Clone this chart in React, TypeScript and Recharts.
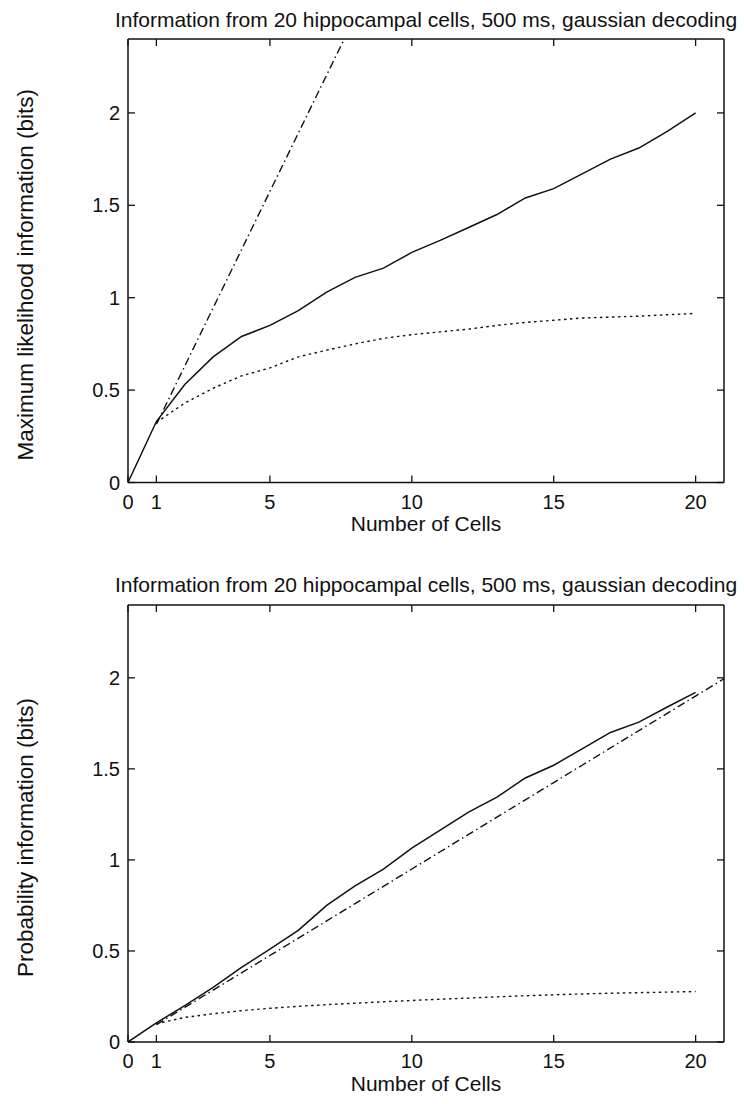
import { LineChart, Line, XAxis, YAxis } from 'recharts';

// number of cells decoded together
const cells = [0, 1, 2, 3, 4, 5, 6, 7, 8, 9, 10, 11, 12, 13, 14, 15, 16, 17, 18, 19, 20, 21];
const xTicks = [0, 1, 5, 10, 15, 20];
const yTicks = [0, 0.5, 1, 1.5, 2];

const titleText = 'Information from 20 hippocampal cells, 500 ms, gaussian decoding';

// top panel: maximum likelihood information (bits)
const mlSolid = [0, 0.33, 0.53, 0.68, 0.79, 0.85, 0.93, 1.03, 1.11, 1.16, 1.245, 1.31, 1.38, 1.45, 1.54, 1.59, 1.67, 1.75, 1.81, 1.9, 2.0];
const mlDotted = [null, 0.325, 0.43, 0.51, 0.577, 0.62, 0.68, 0.716, 0.75, 0.78, 0.8, 0.815, 0.83, 0.85, 0.866, 0.878, 0.89, 0.895, 0.9, 0.908, 0.915];
const mlDashDot = [null, 0.315, 0.63, 0.945, 1.26, 1.575, 1.89, 2.205, 2.52];

// bottom panel: probability information (bits)
const probSolid = [0, 0.105, 0.2, 0.3, 0.41, 0.51, 0.613, 0.75, 0.857, 0.95, 1.065, 1.163, 1.262, 1.345, 1.45, 1.52, 1.61, 1.7, 1.757, 1.84, 1.92];
const probDotted = [null, 0.1, 0.135, 0.155, 0.172, 0.185, 0.196, 0.205, 0.213, 0.221, 0.228, 0.235, 0.241, 0.248, 0.254, 0.259, 0.264, 0.268, 0.271, 0.274, 0.277];
const probDashDot = [null, 0.095, 0.19, 0.285, 0.38, 0.475, 0.57, 0.665, 0.76, 0.855, 0.95, 1.045, 1.14, 1.235, 1.33, 1.425, 1.52, 1.615, 1.71, 1.805, 1.9, 1.995];

const FONT = '"Liberation Sans", Arial, Helvetica, sans-serif';
const INK = '#111';

const buildRows = (solid: (number | null)[], dotted: (number | null)[], dashDot: (number | null)[]) =>
  cells.map((n, i) => ({
    n,
    solid: solid[i] ?? null,
    dotted: dotted[i] ?? null,
    dashDot: dashDot[i] ?? null,
  }));

const tickStyle = { fill: INK, fontSize: 20, fontFamily: FONT };
const axisLine = { stroke: INK, strokeWidth: 1.5 };
const tickLine = { stroke: INK, strokeWidth: 1.3 };
const blank = () => '';

interface PanelProps {
  rows: ReturnType<typeof buildRows>;
  yLabel: string;
  marginTop: number;
  bottomHeight: number;
  titleDy: number;
  xLabelDy: number;
  yLabelDy: number;
}

const Panel = ({ rows, yLabel, marginTop, bottomHeight, titleDy, xLabelDy, yLabelDy }: PanelProps) => {
  return (
    <LineChart width={744} height={552} data={rows} margin={{ top: marginTop, right: 19, bottom: 0, left: 0 }}>
      <XAxis
        dataKey="n"
        type="number"
        domain={[0, 21]}
        ticks={xTicks}
        allowDataOverflow
        height={bottomHeight}
        tickSize={-7}
        tickMargin={19}
        axisLine={axisLine}
        tickLine={tickLine}
        tick={tickStyle}
        label={{ value: 'Number of Cells', position: 'center', dy: xLabelDy, fill: INK, fontSize: 21, fontFamily: FONT }}
      />
      <XAxis
        xAxisId="top"
        orientation="top"
        dataKey="n"
        type="number"
        domain={[0, 21]}
        ticks={xTicks}
        allowDataOverflow
        height={1}
        tickSize={-7}
        tickFormatter={blank}
        axisLine={axisLine}
        tickLine={tickLine}
        label={{ value: titleText, position: 'center', dy: titleDy, fill: INK, fontSize: 21, fontFamily: FONT }}
      />
      <YAxis
        type="number"
        domain={[0, 2.4]}
        ticks={yTicks}
        allowDataOverflow
        width={128}
        tickSize={-7}
        tickMargin={15}
        axisLine={axisLine}
        tickLine={tickLine}
        tick={tickStyle}
        label={{ value: yLabel, angle: -90, position: 'center', dx: -39, dy: yLabelDy, fill: INK, fontSize: 22.5, fontFamily: FONT }}
      />
      <YAxis
        yAxisId="right"
        orientation="right"
        type="number"
        domain={[0, 2.4]}
        ticks={yTicks}
        allowDataOverflow
        width={1}
        tickSize={-7}
        tickFormatter={blank}
        axisLine={axisLine}
        tickLine={tickLine}
      />
      <Line type="linear" dataKey="dashDot" stroke={INK} strokeWidth={1.4} strokeDasharray="8 3.5 1.5 3.5" dot={false} activeDot={false} isAnimationActive={false} />
      <Line type="linear" dataKey="dotted" stroke={INK} strokeWidth={1.4} strokeDasharray="2.5 3.5" dot={false} activeDot={false} isAnimationActive={false} />
      <Line type="linear" dataKey="solid" stroke={INK} strokeWidth={1.5} dot={false} activeDot={false} isAnimationActive={false} />
    </LineChart>
  );
};

const App = () => {
  return (
    <div style={{ position: 'absolute', left: 0, top: 0, width: 744, height: 1104, background: '#fff', fontFamily: FONT }}>
      <div style={{ position: 'absolute', left: 0, top: 0 }}>
        <Panel
          rows={buildRows(mlSolid, mlDotted, mlDashDot)}
          yLabel="Maximum likelihood information (bits)"
          marginTop={38}
          bottomHeight={69.5}
          titleDy={-19}
          xLabelDy={6}
          yLabelDy={14}
        />
      </div>
      <div style={{ position: 'absolute', left: 0, top: 552 }}>
        <Panel
          rows={buildRows(probSolid, probDotted, probDashDot)}
          yLabel="Probability information (bits)"
          marginTop={52}
          bottomHeight={62}
          titleDy={-20}
          xLabelDy={11}
          yLabelDy={14}
        />
      </div>
    </div>
  );
};

export default App;
